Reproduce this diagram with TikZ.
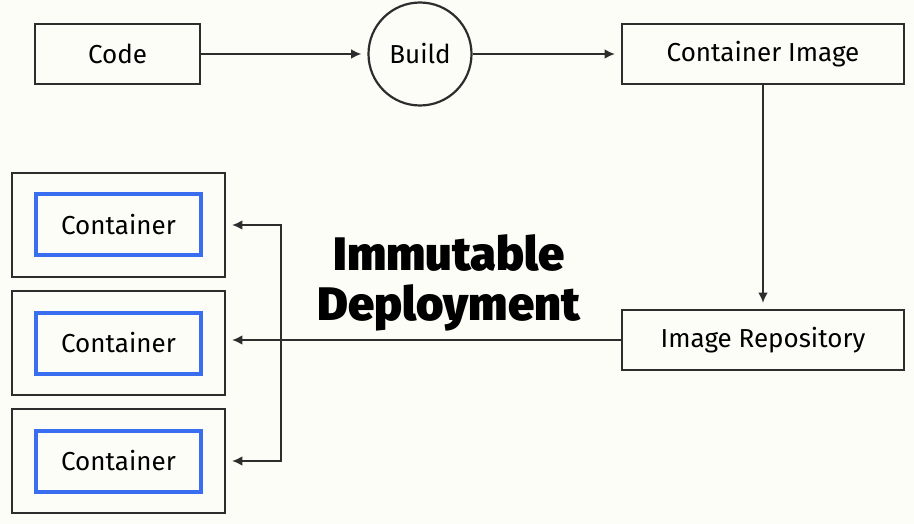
\documentclass[tikz,border=0pt]{standalone}
\usepackage{fontspec}
\setmainfont{Fira Sans}
\IfFontExistsTF{Fira Sans Black}{\newfontfamily\heavyfont{Fira Sans Black}}{\newfontfamily\heavyfont{Fira Sans}[UprightFont=* Bold]}
\usetikzlibrary{arrows.meta,positioning}
\definecolor{bgpaper}{RGB}{253,253,248}
\definecolor{inkgray}{RGB}{45,45,45}
\definecolor{podblue}{RGB}{58,110,240}

\begin{document}
\begin{tikzpicture}[x=1pt, y=-1pt, >={Latex[length=3.6mm, width=3.4mm]},
    box/.style={draw=inkgray, line width=2.2pt, minimum height=60pt, font=\fontsize{26}{31}\selectfont, inner sep=0pt},
    pod/.style={draw=inkgray, line width=2.2pt, minimum width=213pt, minimum height=104pt, inner sep=0pt},
    ctr/.style={draw=podblue, line width=4pt, minimum width=165pt, minimum height=61pt, font=\fontsize{26}{31}\selectfont, inner sep=0pt},
    link/.style={->, draw=inkgray, line width=1.8pt, shorten >=6pt}]

        \fill[bgpaper] (0,0) rectangle (914,524);
        \useasboundingbox (0,0) rectangle (914,524);

        % Build pipeline
        \node at (117.5,54) [box, minimum width=165pt] (code) {Code};
        \node at (420,54) [circle, draw=inkgray, line width=2.2pt, minimum size=103pt, font=\fontsize{26}{31}\selectfont] (build) {Build};
        \node at (763,54) [box, minimum width=282pt] (cimage) {Container Image};
        \node at (763,340) [box, minimum width=282pt] (repo) {Image Repository};

        % Containers
        \foreach \i/\y in {1/225, 2/343, 3/461} {
            \node at (118.5,\y) [pod] (pod\i) {};
            \node at (pod\i.center) [ctr] (ctr\i) {Container};
        }

        % Title
        \node at (449,283) [align=center, font=\heavyfont\fontsize{47}{50}\selectfont] (title) {Immutable\\Deployment};

        % Arrows
        \draw[link] (code.east) -- (build.west);
        \draw[link] (build.east) -- (cimage.west);
        \draw[link] (cimage.south) -- (repo.north);
        \draw[link] (repo.west) -- (repo.west -| pod2.east);
        \coordinate (split) at (281,340);
        \draw[link] (split) |- (pod1.east);
        \draw[link] (split) |- (pod3.east);

\end{tikzpicture}
\end{document}
